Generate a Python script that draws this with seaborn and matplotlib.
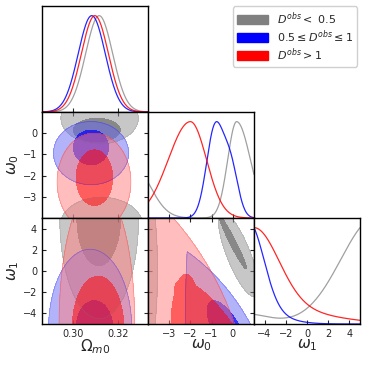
import numpy as np
import pandas as pd
import matplotlib
matplotlib.use("Agg")
import matplotlib.pyplot as plt
from matplotlib.patches import Patch
import seaborn as sns

# groups (legend order) and colours
labels = [r"$D^{obs}<\ 0.5$", r"$0.5\leq D^{obs}\leq 1$", r"$D^{obs}>1$"]
colors = ["gray", "blue", "red"]
outer_colors = ["#919191", "#6969f5", "#ff7d7d"]
inner_colors = ["#3c3c3c", "blue", "red"]

# parameter axes
params = ["om", "w0", "w1"]
names = {"om": r"$\Omega_{m0}$", "w0": r"$\omega_0$", "w1": r"$\omega_1$"}
limits = {"om": (0.2861, 0.3332), "w0": (-4.0, 1.0), "w1": (-5.0, 5.0)}
ticks = {"om": [0.30, 0.32], "w0": [-3, -2, -1, 0], "w1": [-4, -2, 0, 2, 4]}

# 1D marginals: (mean, sigma_left, sigma_right, amplitude) per group
marg_om = [[(0.3115, 0.0060, 0.0060, 1.0)],
           [(0.3082, 0.0060, 0.0060, 1.0)],
           [(0.3096, 0.0060, 0.0060, 1.0)]]
marg_w0 = [[(0.18, 0.42, 0.65, 1.0), (-4.7, 0.81, 0.81, 0.54)],
           [(-0.84, 0.40, 0.40, 1.0), (-0.10, 0.35, 0.35, 0.55)],
           [(-2.0, 1.045, 0.76, 1.0)]]
marg_w1 = [[(6.5, 3.3, 3.3, 1.1), (-6.0, 2.29, 2.29, 0.107)],
           [(-5.5, 1.4, 1.4, 0.85), (-5.5, 2.6, 2.6, 0.15)],
           [(-5.0, 2.3, 2.3, 0.8), (-5.0, 5.5, 5.5, 0.2)]]
marginals = {"om": marg_om, "w0": marg_w0, "w1": marg_w1}

# 2D credible regions, (mx, my, sx, sy, rho) per group: 95% then 68%
# a region is the union of its ellipses, cut by its "clip" ellipses
om_w0_outer = [[(0.3117, 0.7, 0.0172, 1.2, 0), (0.3125, -4.4, 0.0185, 1.38, 0)],
               [(0.3079, -0.94, 0.0167, 1.49, 0)],
               [(0.3092, -2.3, 0.0164, 2.3, 0)]]
om_w0_inner = [[(0.3105, 0.15, 0.0104, 0.55, 0)],
               [(0.3079, -0.67, 0.0078, 0.82, 0)],
               [(0.3094, -2.1, 0.0081, 1.31, 0)]]
om_w1_outer = [[(0.3115, 5.0, 0.0175, 9.5, 0)],
               [(0.3075, -5.5, 0.0185, 7.55, 0)],
               [(0.3105, -5.0, 0.0168, 13.0, 0)]]
om_w1_inner = [[(0.3113, 5.0, 0.0097, 4.5, 0)],
               [(0.3094, -5.5, 0.0082, 2.7, 0)],
               [(0.311, -5.5, 0.0115, 5.0, 0)]]
w0_w1_outer = [[(0.27, 1.57, 0.947, 4.0, -0.78), (-4.8, 0.0, 1.25, 12.0, 0)],
               [(-8.0, -14.4, 10.0, 20.0, 0)],
               [(-14.1, -14.75, 15.0, 30.0, 0)]]
w0_w1_outer_clip = [[], [(1.0, -5.0, 3.24, 30.0, 0)], []]
w0_w1_inner = [[(0.0, 2.7, 0.645, 2.5, -0.969)],
               [(-0.2, -6.0, 1.0, 3.2, -0.7)],
               [(-2.2, -5.5, 0.72, 5.2, 0), (-0.95, -5.5, 1.8, 4.6, -0.8)]]
no_clip = [[], [], []]
regions = {("om", "w0"): (om_w0_outer, no_clip, om_w0_inner),
           ("om", "w1"): (om_w1_outer, no_clip, om_w1_inner),
           ("w0", "w1"): (w0_w1_outer, w0_w1_outer_clip, w0_w1_inner)}

outer_alpha = [0.5, 0.5, 0.5]
inner_alpha = [0.45, 0.7, 0.5]


def density_1d(x, comps):
    y = np.zeros_like(x)
    for m, sl, sr, a in comps:
        s = np.where(x < m, sl, sr)
        y += a * np.exp(-0.5 * ((x - m) / s) ** 2)
    return y / y.max()


def ellipse_r2(X, Y, e):
    mx, my, sx, sy, rho = e
    u = (X - mx) / sx
    v = (Y - my) / sy
    return (u ** 2 - 2 * rho * u * v + v ** 2) / (1 - rho ** 2)


def region_r2(X, Y, comps, clips=()):
    r2 = np.full(X.shape, np.inf)
    for e in comps:
        r2 = np.minimum(r2, ellipse_r2(X, Y, e))
    for e in clips:
        r2 = np.maximum(r2, ellipse_r2(X, Y, e))
    return r2


sns.set_style("ticks")
plt.rcParams["font.family"] = ["DejaVu Sans"]
plt.rcParams["mathtext.fontset"] = "dejavusans"

fig = plt.figure(figsize=(3.66, 3.65), dpi=100)
left, bottom0, cw, ch = 42 / 366, 1 - 324 / 365, 106 / 366, 106 / 365

axes = {}
for i, py in enumerate(params):
    for j, px in enumerate(params):
        if j > i:
            continue
        ax = fig.add_axes([left + j * cw, bottom0 + (2 - i) * ch, cw, ch])
        axes[(i, j)] = ax
        ax.set_xlim(*limits[px])
        ax.set_xticks(ticks[px])
        for s in ax.spines.values():
            s.set_color("black")
            s.set_linewidth(1.0)
        if i == j:
            grid = np.linspace(*limits[px], 400)
            for g in range(3):
                dens = density_1d(grid, marginals[px][g])
                sns.lineplot(x=grid, y=dens, color=colors[g], lw=0.9,
                             alpha=0.75 if g == 0 else 0.85, ax=ax)
            ax.set_ylim(0, 1.1)
            ax.set_yticks([])
            ax.tick_params(axis="x", direction="in", length=3, width=0.8,
                           labelsize=7, top=False)
        else:
            ax.set_ylim(*limits[py])
            ax.set_yticks(ticks[py])
            xs = np.linspace(*limits[px], 300)
            ys = np.linspace(*limits[py], 300)
            X, Y = np.meshgrid(xs, ys)
            outer, clips, inner = regions[(px, py)]
            for g in range(3):
                r2o = region_r2(X, Y, outer[g], clips[g])
                ax.contourf(X, Y, r2o, levels=[-1, 1], colors=[outer_colors[g]],
                            alpha=outer_alpha[g])
                ax.contour(X, Y, r2o, levels=[1], colors=[colors[g]],
                           linewidths=0.5, alpha=0.3)
                r2i = region_r2(X, Y, inner[g])
                ax.contourf(X, Y, r2i, levels=[-1, 1], colors=[inner_colors[g]],
                            alpha=inner_alpha[g])
            ax.tick_params(direction="in", length=3, width=0.8, labelsize=7,
                           top=True, right=True)
        if i == 2:
            ax.set_xlabel(names[px], fontsize=11, labelpad=-1)
            if px == "om":
                ax.set_xticklabels(["0.30", "0.32"])
        else:
            ax.tick_params(labelbottom=False)
        if j == 0 and i > 0:
            ax.set_ylabel(names[py], fontsize=11)
            ax.yaxis.set_label_coords(-0.2, 0.5)
        else:
            ax.tick_params(labelleft=False)
        ax.set_facecolor("white")

handles = [Patch(facecolor=c, edgecolor=c, label=l) for c, l in zip(colors, labels)]
fig.legend(handles=handles, loc="upper right", bbox_to_anchor=(0.99, 0.998),
           fontsize=8, handlelength=2.8, handleheight=0.9, handletextpad=0.8,
           frameon=True, framealpha=1.0, edgecolor="#d0d0d0", borderpad=0.35,
           labelspacing=0.12)

fig.savefig("out.png", dpi=100)
